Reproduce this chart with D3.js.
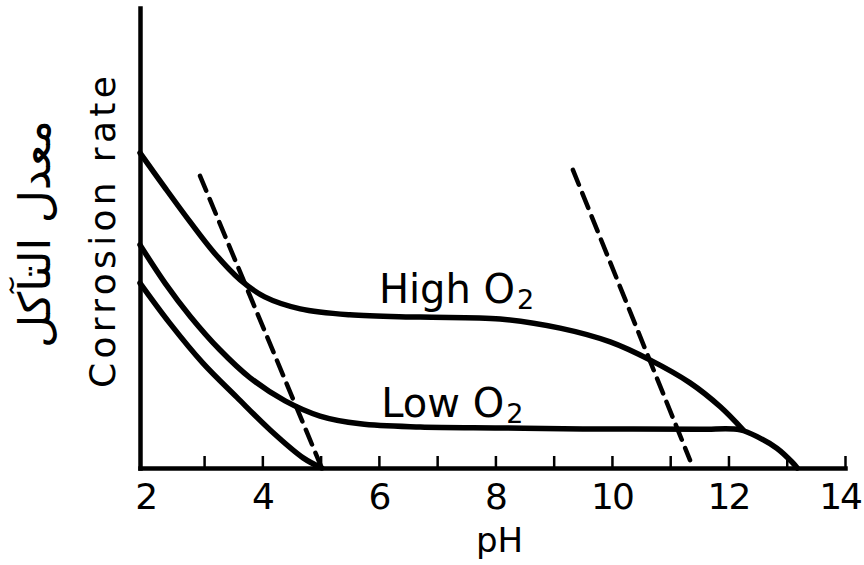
<!DOCTYPE html>
<html><head><meta charset="utf-8">
<script src="https://cdn.jsdelivr.net/npm/d3@7"></script>
<style>body{margin:0;background:#fff} svg{display:block}</style>
</head><body><svg id="c" width="864" height="565"></svg>
<script>
// pH vs corrosion rate (arbitrary units 0-100)
const highO2 = [[1.9,68.5],[2.33,60.9],[2.76,53.5],[3.18,46.7],[3.62,40.9],[4.04,37.2],[4.65,34.6],[5.50,33.3],[6.71,32.8],[8.08,32.4],[9.11,30.4],[9.97,27.4],[10.65,23.5],[11.34,18.5],[11.86,13.3],[12.25,8.3]];
const lowO2 = [[1.9,48.5],[2.33,40.2],[2.76,33.0],[3.27,25.7],[3.79,19.6],[4.39,14.6],[4.99,11.3],[5.68,9.6],[6.71,8.9],[8.08,8.7],[9.5,8.5],[11.5,8.4],[12.2,8.3],[12.54,6.5],[12.83,4.3],[13.09,1.3],[13.18,0]];
const noO2 = [[1.9,40.2],[2.41,31.5],[2.98,22.8],[3.56,15.4],[4.13,8.3],[4.70,2.2],[5.02,0]];
const dashLeft = [[2.93,63.5],[5.02,0]];
const dashRight = [[9.33,64.8],[11.34,1.7]];
const tickValues = [3,4,5,6,7,8,9,10,11,12,13,14];
const tickLabels = [2,4,6,8,10,12,14];
const curveLabels = [{name:"High", pos:[6.0,35.8]},{name:"Low", pos:[6.04,11.0]}];

const svg = d3.select("#c");
const x = d3.scaleLinear().domain([1.9,14]).range([140,845]);
const y = d3.scaleLinear().domain([0,100]).range([468,8]);

const line = d3.line().x(d=>x(d[0])).y(d=>y(d[1])).curve(d3.curveCatmullRom.alpha(0.5));
const straight = d3.line().x(d=>x(d[0])).y(d=>y(d[1]));

// axes
const gx = svg.append("g").attr("transform",`translate(0,${y(0)})`)
  .call(d3.axisBottom(x).tickValues(tickValues).tickSizeInner(-12).tickSizeOuter(0).tickFormat(""));
gx.select(".domain").attr("stroke","#000").attr("stroke-width",4.5).attr("stroke-linecap","square");
gx.selectAll(".tick line").attr("stroke","#000").attr("stroke-width",2.5);

const gy = svg.append("g").attr("transform",`translate(${x(1.9)},0)`)
  .call(d3.axisLeft(y).tickValues([]).tickSizeOuter(0));
gy.select(".domain").attr("stroke","#000").attr("stroke-width",4.5).attr("stroke-linecap","square");

// curves
[highO2, lowO2, noO2].forEach(d=>{
  svg.append("path").datum(d).attr("d",line).attr("fill","none")
    .attr("stroke","#000").attr("stroke-width",5.5).attr("stroke-linejoin","round").attr("stroke-linecap","round");
});
[dashLeft, dashRight].forEach(d=>{
  svg.append("path").datum(d).attr("d",straight).attr("fill","none")
    .attr("stroke","#000").attr("stroke-width",4.5).attr("stroke-dasharray","16 9").attr("stroke-linecap","round");
});

const font = "'DejaVu Sans', sans-serif";
// tick labels
svg.selectAll(".tl").data(tickLabels).enter().append("text")
  .attr("x",d=>x(d)).attr("y",509).attr("text-anchor","middle")
  .attr("font-family",font).attr("font-size",36).attr("letter-spacing",-2).text(d=>d)
  .each(function(){
    const w = this.getComputedTextLength();
    const cx = +this.getAttribute("x");
    if (cx + w/2 > 861) this.setAttribute("x", 861 - w/2);
  });

svg.append("text").attr("x",x(8.07)).attr("y",552).attr("text-anchor","middle")
  .attr("font-family",font).attr("font-size",34).text("pH");

// curve labels
curveLabels.forEach(c=>{
  const t = svg.append("text").attr("x",x(c.pos[0])).attr("y",y(c.pos[1]))
    .attr("font-family",font).attr("font-size",40);
  t.append("tspan").text(c.name+" O");
  t.append("tspan").attr("font-size",27).attr("dy",6).attr("dx",2).text("2");
});

// y labels
svg.append("text").attr("transform","translate(115,232) rotate(-90)")
  .attr("text-anchor","middle").attr("font-family",font).attr("font-size",36)
  .attr("textLength",312).attr("lengthAdjust","spacing").text("Corrosion rate");

const ar = svg.append("g").attr("transform","translate(50,234) rotate(-90)");
const at = ar.append("text").attr("text-anchor","middle").attr("font-family",font)
  .attr("font-size",44).attr("direction","rtl").text("معدل التآكل");
const len = at.node().getComputedTextLength();
if(len>0) at.attr("transform",`scale(${228/len},1)`);
</script></body></html>
